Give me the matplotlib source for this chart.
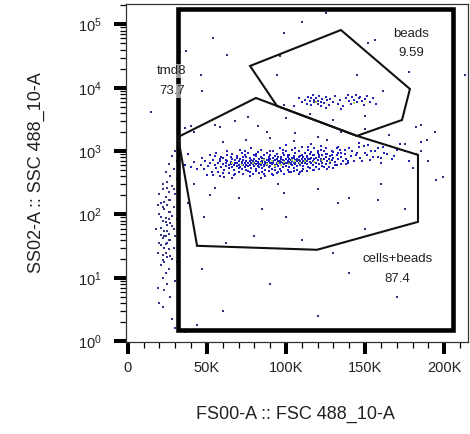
import numpy as np
import matplotlib
matplotlib.use("Agg")
import matplotlib.pyplot as plt
from matplotlib.patches import Polygon, Rectangle
from matplotlib.ticker import FixedLocator, NullFormatter

plt.rcParams["font.family"] = ["Liberation Sans", "DejaVu Sans"]
plt.rcParams["mathtext.fontset"] = "custom"
plt.rcParams["mathtext.rm"] = "Liberation Sans"
plt.rcParams["mathtext.it"] = "Liberation Sans:italic"
plt.rcParams["mathtext.bf"] = "Liberation Sans:bold"

# events: (FSC in thousands, SSC)
main_events = [
    (46, 610), (48, 520), (49, 700), (51, 580), (52, 660), (53, 470), (54, 730), (55, 600),
    (56, 540), (57, 640), (58, 690), (59, 560), (60, 620), (60, 780), (61, 500), (62, 650),
    (62, 580), (63, 710), (64, 600), (64, 540), (65, 680), (65, 630), (66, 750), (66, 560),
    (67, 610), (67, 500), (68, 660), (68, 720), (69, 590), (69, 640), (70, 540), (70, 690),
    (70, 610), (71, 760), (71, 570), (72, 630), (72, 680), (72, 520), (73, 600), (73, 720),
    (74, 650), (74, 560), (75, 610), (75, 700), (75, 820), (76, 580), (76, 640), (76, 480),
    (77, 690), (77, 600), (78, 730), (78, 550), (78, 650), (79, 620), (79, 700), (80, 580),
    (80, 660), (80, 760), (81, 530), (81, 620), (81, 700), (82, 590), (82, 680), (82, 640),
    (83, 740), (83, 560), (83, 620), (84, 670), (84, 600), (84, 800), (85, 540), (85, 650),
    (85, 710), (86, 600), (86, 760), (86, 580), (87, 680), (87, 630), (87, 500), (88, 720),
    (88, 600), (88, 660), (89, 560), (89, 700), (89, 820), (90, 640), (90, 590), (90, 750),
    (91, 680), (91, 620), (91, 530), (92, 700), (92, 650), (92, 780), (93, 600), (93, 720),
    (93, 560), (94, 660), (94, 740), (94, 620), (95, 690), (95, 580), (95, 820), (96, 640),
    (96, 710), (96, 520), (97, 760), (97, 610), (97, 680), (98, 650), (98, 730), (98, 570),
    (99, 700), (99, 620), (99, 860), (100, 660), (100, 740), (100, 590), (101, 700), (101, 640),
    (101, 800), (102, 560), (102, 680), (102, 750), (103, 620), (103, 720), (103, 660), (104, 780),
    (104, 600), (104, 700), (105, 650), (105, 840), (105, 540), (106, 720), (106, 680), (106, 620),
    (107, 760), (107, 580), (107, 700), (108, 650), (108, 820), (108, 730), (109, 600), (109, 690),
    (110, 760), (110, 640), (110, 880), (111, 700), (111, 580), (111, 800), (112, 660), (112, 740),
    (113, 620), (113, 840), (113, 700), (114, 760), (114, 560), (115, 680), (115, 900), (115, 740),
    (116, 640), (116, 790), (117, 700), (117, 600), (118, 860), (118, 740), (119, 660), (119, 780),
    (120, 720), (120, 940), (121, 620), (121, 820), (122, 700), (122, 760), (123, 880), (123, 660),
    (124, 740), (124, 1000), (125, 800), (125, 620), (126, 700), (126, 900), (127, 760), (128, 840),
    (128, 640), (129, 720), (130, 960), (130, 780), (131, 680), (132, 860), (133, 740), (134, 1050),
    (135, 800), (136, 690), (137, 900), (138, 760), (140, 1100), (141, 840), (143, 700), (145, 950),
    (147, 780), (149, 1200), (151, 880), (153, 720), (156, 1000), (158, 820), (161, 1150), (164, 900),
    (167, 760), (170, 1050),
    (50, 420), (58, 400), (63, 880), (68, 430), (72, 950), (77, 410), (81, 900), (86, 440),
    (90, 1000), (94, 450), (98, 1050), (102, 470), (106, 1100), (110, 480), (114, 1150), (118, 500),
    (122, 1200), (126, 520), (130, 550), (44, 520), (47, 780), (55, 850), (60, 450), (66, 380),
    (74, 1000), (84, 380), (92, 420), (100, 1250), (108, 430), (116, 1300), (124, 560), (132, 600),
    (139, 640), (146, 1350), (154, 1000), (160, 780), (42, 680), (40, 560), (38, 900), (36, 600),
    (132, 1100), (135, 950), (138, 620), (142, 1000), (144, 880), (146, 1150), (148, 700), (150, 950),
    (152, 1250), (155, 800), (158, 1100), (160, 650), (162, 950), (166, 1200), (168, 850), (172, 1300),
    (175, 1000), (178, 700), (182, 900), (185, 1400),
    (52, 880), (54, 420), (56, 950), (57, 460), (59, 820), (61, 390), (63, 1000), (64, 450),
    (66, 900), (67, 420), (69, 850), (70, 460), (71, 1050), (73, 440), (74, 880), (75, 500),
    (76, 930), (77, 470), (78, 1100), (79, 430), (80, 860), (81, 480), (82, 960), (83, 450),
    (84, 1050), (85, 470), (86, 880), (87, 410), (88, 940), (89, 480), (90, 870), (91, 440),
    (92, 1000), (93, 500), (94, 900), (95, 460), (96, 1100), (97, 490), (98, 920), (99, 440),
    (100, 1000), (101, 500), (102, 880), (103, 460), (104, 1050), (105, 480), (106, 930), (107, 510),
    (108, 1000), (109, 470), (110, 1150), (111, 520), (112, 940), (113, 490), (114, 1050), (115, 540),
    (116, 980), (117, 500), (118, 1100), (119, 560), (120, 1000), (121, 530), (122, 1050), (123, 580),
    (125, 1100), (127, 560), (129, 1000), (131, 600), (133, 1150), (135, 620), (137, 1050), (139, 700),
    (58, 760), (62, 720), (65, 800), (69, 770), (73, 820), (77, 780), (81, 830), (85, 790),
    (89, 760), (93, 840), (97, 800), (101, 860), (105, 770), (109, 840), (113, 800), (117, 880),
    (121, 860), (125, 900), (129, 870), (133, 920),
]

core_events = [
    (79, 640), (84, 660), (88, 620), (91, 700), (95, 650), (99, 680), (102, 630), (106, 690),
    (109, 660), (112, 700), (86, 720), (97, 600), (104, 720), (93, 590), (118, 680), (72, 610),
    (66, 650), (123, 720), (128, 700), (119, 6000), (143, 5800),
]

bead_events = [
    (112, 6500), (113, 5600), (114, 7200), (115, 6100), (116, 5300), (116, 6800), (117, 7600),
    (118, 5900), (118, 6400), (119, 7000), (120, 5500), (120, 6200), (121, 7400), (122, 6000),
    (122, 5200), (123, 6700), (124, 5700), (125, 7100), (126, 6300), (127, 5400), (128, 6600),
    (110, 5900), (108, 7000), (130, 6000), (131, 7300), (133, 5600), (134, 6400), (136, 5100),
    (138, 6900), (139, 7800), (140, 6200), (141, 5600), (142, 7200), (143, 6500), (144, 7600),
    (145, 5900), (146, 6800), (147, 7100), (148, 6200), (149, 5400), (150, 6600), (151, 7300),
    (153, 6000), (155, 6800), (157, 5600), (125, 4800), (135, 4700), (105, 5200),
]

debris_events = [
    (30, 1000), (28, 850), (31, 700), (26, 620), (29, 520), (24, 460), (27, 400), (31, 360),
    (25, 320), (28, 280), (22, 250), (26, 230), (30, 210), (24, 190), (27, 170), (21, 150),
    (25, 140), (29, 130), (23, 120), (26, 110), (20, 100), (28, 95), (24, 88), (22, 80),
    (27, 74), (25, 68), (21, 62), (29, 58), (23, 54), (26, 50), (24, 46), (22, 42),
    (27, 39), (25, 36), (21, 33), (23, 30), (26, 28), (24, 25), (22, 23), (25, 21),
    (23, 18), (21, 16), (26, 14), (24, 12), (22, 10), (25, 8), (23, 6.5), (27, 5),
    (22, 3.5), (28, 2.2), (30, 1.6), (20, 4), (19, 7), (31, 85), (32, 140),
    (18, 60), (20, 35), (22, 130), (24, 75), (26, 40), (28, 20), (30, 45), (19, 25),
    (21, 90), (23, 160), (25, 55), (27, 110), (29, 30), (31, 18), (20, 210), (22, 300),
    (24, 12), (26, 170), (28, 65), (30, 9), (32, 400), (23, 45), (25, 260), (27, 22),
    (21, 48), (19, 140), (29, 250), (26, 85), (24, 34), (22, 19),
]

sparse_events = [
    (33, 37000), (37, 38000), (54, 61000), (63, 33000), (46, 16000), (47, 8800), (15, 4100),
    (40, 2500), (36, 2300), (58, 2400), (99, 72000), (125, 150000), (152, 50000), (156, 56000),
    (110, 108000), (96, 32000), (94, 16000), (178, 17700), (213, 16000), (145, 16000), (161, 8900),
    (182, 2400), (185, 2600), (194, 2000), (189, 1500), (199, 395), (99, 5300), (76, 3400),
    (88, 2000), (106, 1900), (126, 1500), (133, 150), (99, 220), (158, 170),
    (55, 260), (70, 180), (85, 120), (100, 90), (95, 300), (120, 250), (140, 180), (160, 300),
    (175, 120), (62, 35), (80, 45), (110, 40), (150, 60), (130, 25), (47, 14), (90, 8),
    (140, 12), (170, 5), (60, 3), (36, 1.4), (44, 1.8), (120, 2.5), (38, 150), (42, 300),
    (48, 90), (52, 200), (60, 1400), (75, 1500), (90, 1600), (105, 1450), (120, 1700), (135, 2000),
    (150, 2200), (165, 1800), (175, 1300), (185, 1000), (190, 700), (180, 550), (195, 350),
    (42, 2000), (55, 2600), (68, 3000), (82, 2500), (100, 3300), (115, 3800), (130, 3100), (150, 3600),
]

# gates (FSC in thousands, SSC)
tmd8_gate = (31.8, 205.5, 1.51, 175000)
beads_gate = [(77.3, 22100), (134.7, 81600), (178.3, 9570), (173.3, 3100), (144.8, 1740), (94.3, 5160)]
cells_gate = [(31.8, 1670), (81.0, 6900), (144.8, 1740), (183.4, 871), (183.4, 76.4),
              (119.6, 27.7), (43.8, 32.0)]

gate_labels = [("tmd8", "73.7", 28.0, 18400, 8900),
               ("beads", "9.59", 179.0, 70600, 35400),
               ("cells+beads", "87.4", 170.5, 19.9, 9.6)]

xticks = [0, 50, 100, 150, 200]
xticklabels = ["0", "50K", "100K", "150K", "200K"]
ydecades = [0, 1, 2, 3, 4, 5]

fig = plt.figure(figsize=(4.7, 4.34), dpi=100)
ax = fig.add_axes([126 / 470, 1 - 342 / 434, 342 / 470, 338 / 434])

ax.set_yscale("log")
ax.set_xlim(-1.1, 215)
ax.set_ylim(0.97, 2.1e5)

for events, color in [(debris_events, "#34348a"), (sparse_events, "#2c2c78"),
                      (main_events, "#2020bc"), (bead_events, "#2424b4"),
                      (core_events, "#a4d04c")]:
    ev = np.array(events, dtype=float)
    ax.scatter(ev[:, 0], ev[:, 1], s=2.6, c=color, marker="s", linewidths=0, zorder=2)

x0, x1, y0, y1 = tmd8_gate
ax.add_patch(Rectangle((x0, y0), x1 - x0, y1 - y0, fill=False, lw=3.3, ec="black",
                       joinstyle="miter", zorder=3))
ax.add_patch(Polygon(beads_gate, closed=True, fill=False, lw=1.5, ec="#111111", zorder=3))
ax.add_patch(Polygon(cells_gate, closed=True, fill=False, lw=1.5, ec="#111111", zorder=3))

for name, pct, lx, ly_name, ly_pct in gate_labels:
    box = dict(facecolor="white", edgecolor="none", alpha=0.6, pad=1)
    ax.text(lx, ly_name, name, fontsize=9.5, color="#222222", ha="center", va="center",
            bbox=box, zorder=4)
    ax.text(lx, ly_pct, pct, fontsize=9.5, color="#222222", ha="center", va="center",
            bbox=box, zorder=4)

ax.set_xticks(xticks, xticklabels)
ax.xaxis.set_minor_locator(FixedLocator([v for v in range(10, 220, 10) if v % 50]))
ax.set_yticks([10.0 ** d for d in ydecades],
              [r"$\mathregular{10^{%d}}$" % d for d in ydecades])
ax.yaxis.set_minor_locator(FixedLocator([m * 10.0 ** d for d in range(0, 6) for m in range(2, 10)]))
ax.yaxis.set_minor_formatter(NullFormatter())

ax.tick_params(which="major", direction="out", length=8.5, width=2.9, color="black",
               labelsize=10.5, labelcolor="#222222")
ax.tick_params(axis="y", which="major", pad=9)
ax.tick_params(axis="x", which="major", pad=5)
ax.tick_params(which="minor", direction="out", length=4.3, width=0.9, color="black")

for side in ax.spines.values():
    side.set_linewidth(0.9)
    side.set_color("#333333")

ax.set_xlabel("FS00-A :: FSC 488_10-A", fontsize=13, color="#222222")
ax.set_ylabel("SS02-A :: SSC 488_10-A", fontsize=13, color="#222222")
ax.xaxis.set_label_coords(0.494, -0.19)
ax.yaxis.set_label_coords(-0.238, 0.5)

fig.savefig("out.png", dpi=100, facecolor="white")
